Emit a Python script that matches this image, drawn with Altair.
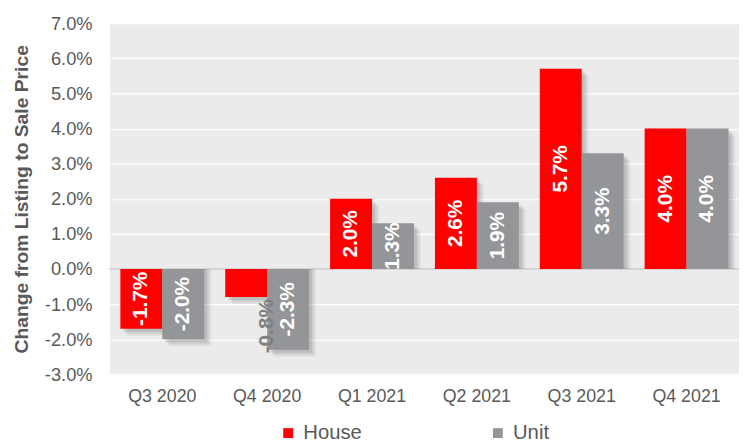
import altair as alt
import pandas as pd

quarters = ["Q3 2020", "Q4 2020", "Q1 2021", "Q2 2021", "Q3 2021", "Q4 2021"]
house = [-1.7, -0.8, 2.0, 2.6, 5.7, 4.0]
unit = [-2.0, -2.3, 1.3, 1.9, 3.3, 4.0]
series = ["House", "Unit"]
colors = ["#ff0000", "#939598"]
y_ticks = [-3, -2, -1, 0, 1, 2, 3, 4, 5, 6, 7]

rows = []
for q, h, u in zip(quarters, house, unit):
    rows.append({"quarter": q, "series": "House", "value": h})
    rows.append({"quarter": q, "series": "Unit", "value": u})
df = pd.DataFrame(rows)

FONT = "Liberation Sans"
TXT = "#595959"
W, H = 636, 355
BAND = W / 6 * 0.8
PCT = "(datum.value<0?'-':'')+format(abs(datum.value),'.1f')+'%'"

x = alt.X(
    "quarter:N", sort=quarters,
    scale=alt.Scale(paddingInner=0.2, paddingOuter=0.1),
    axis=alt.Axis(title=None, orient="bottom", domain=False, ticks=False,
                  labelPadding=13, labelFontSize=18, labelColor=TXT, labelFont=FONT,
                  grid=False, labelAngle=0),
)
yscale = alt.Scale(domain=[-3, 7], nice=False, zero=False)
yaxis = alt.Axis(title="Change from Listing to Sale Price", values=y_ticks,
                 labelExpr=PCT, domain=False, ticks=False,
                 grid=True, gridColor="#ffffff", gridWidth=1.2, labelPadding=18,
                 labelFontSize=18.5, labelColor=TXT, labelFont=FONT,
                 titleFontSize=19.5, titleFontWeight="bold", titleColor=TXT,
                 titleFont=FONT, titlePadding=13)
y = alt.Y("value:Q", scale=yscale, stack=None, axis=yaxis)


def shadow(d, op):
    return alt.Chart(df).mark_bar(color="#000000", opacity=op, yOffset=d, y2Offset=d).encode(
        x=x, y=y,
        xOffset=alt.XOffset("series:N", sort=series, scale=alt.Scale(range=[d, BAND + d])),
    )


zero = alt.Chart(df).mark_rule(color="#d4d4d4", strokeWidth=1).encode(
    y=alt.Y("z:Q", scale=yscale, axis=yaxis)
).transform_calculate(z="0")

bars = alt.Chart(df).mark_bar().encode(
    x=x, y=y,
    xOffset=alt.XOffset("series:N", sort=series),
    color=alt.Color("series:N", sort=series,
                    scale=alt.Scale(domain=series, range=colors),
                    legend=alt.Legend(title=None, orient="none", legendX=170, legendY=404,
                                      direction="horizontal", symbolType="square",
                                      symbolSize=100, symbolStrokeWidth=0,
                                      labelFontSize=20.5, labelColor=TXT, labelFont=FONT,
                                      columnPadding=127, labelOffset=5, padding=0)),
)

LABEL = "(datum.value<0?'-':'')+format(abs(datum.value),'.1f')+'%'"

inside = alt.Chart(df).transform_filter("abs(datum.value) >= 1").transform_calculate(
    mid="datum.value/2", label=LABEL
).mark_text(angle=270, align="center", baseline="middle", color="white",
            fontWeight="bold", fontSize=21, font=FONT).encode(
    x=x,
    xOffset=alt.XOffset("series:N", sort=series),
    y=alt.Y("mid:Q", scale=yscale, stack=None, axis=yaxis),
    text="label:N",
)

outside = alt.Chart(df).transform_filter("abs(datum.value) < 1").transform_calculate(
    label=LABEL
).mark_text(angle=270, align="right", baseline="middle", color="#7f7f7f", dx=-2,
            fontWeight="bold", fontSize=21, font=FONT).encode(
    x=x,
    xOffset=alt.XOffset("series:N", sort=series),
    y=alt.Y("value:Q", scale=yscale, stack=None, axis=yaxis),
    text="label:N",
)

chart = alt.layer(zero, shadow(7, 0.05), shadow(5, 0.07), shadow(3, 0.09), bars, inside, outside).resolve_scale(
    xOffset="independent"
).properties(
    width=W, height=H,
    padding={"left": 103, "top": 13, "right": 0, "bottom": 66},
    autosize=alt.AutoSizeParams(type="none"),
).configure_view(fill="#ebebeb", stroke=None)

chart.save("out.html", embed_options={"renderer": "svg", "actions": False})
